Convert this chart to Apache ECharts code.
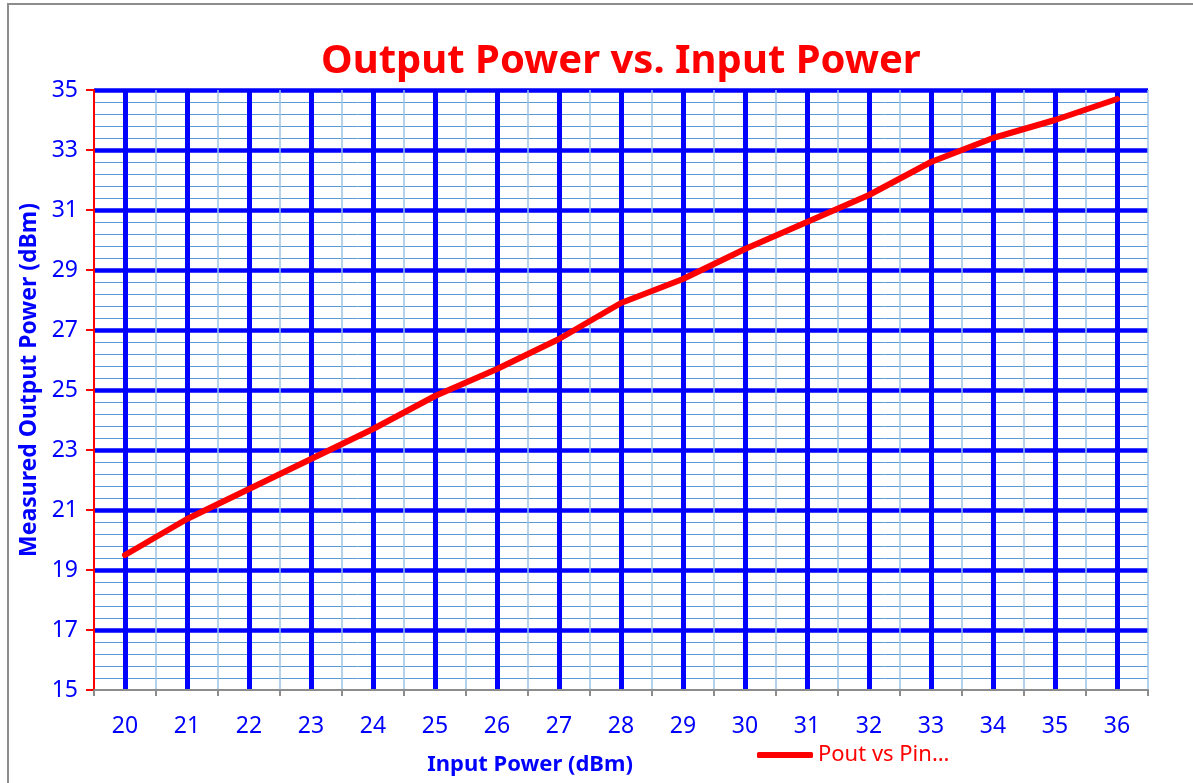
<!DOCTYPE html>
<html>
<head>
<meta charset="utf-8">
<script src="https://cdn.jsdelivr.net/npm/echarts@6/dist/echarts.min.js"></script>
<style>
html, body { margin: 0; padding: 0; background: #fff; }
#chart { width: 1193px; height: 783px; position: relative; }
#frame {
  position: absolute; left: 7px; top: 3px; width: 1300px; height: 900px;
  border-left: 2px solid #8c8c8c; border-top: 2px solid #8c8c8c;
  pointer-events: none;
}
</style>
</head>
<body>
<div id="chart"></div>
<div id="frame"></div>
<script>
// input power, dBm
var inputPower = ['20', '21', '22', '23', '24', '25', '26', '27', '28', '29', '30', '31', '32', '33', '34', '35', '36'];
// measured output power, dBm
var outputPower = [19.5, 20.7, 21.7, 22.7, 23.7, 24.8, 25.7, 26.7, 27.9, 28.7, 29.7, 30.6, 31.5, 32.6, 33.4, 34.0, 34.7];
var yMin = 15, yMax = 35, yStep = 2;

var blue = '#0000ff';
var red = '#ff0000';
var font = 'Noto Sans';

var chart = echarts.init(document.getElementById('chart'));

// thick lines on every odd value except the bottom one (gray x axis sits there)
var majorColors = [];
for (var v = yMin; v <= yMax; v += yStep) majorColors.push(v === yMin ? 'rgba(0,0,0,0)' : blue);

var option = {
  animation: false,
  title: {
    text: 'Output Power vs. Input Power',
    left: 316,
    top: 37,
    textStyle: { color: red, fontFamily: font, fontWeight: 'bold', fontSize: 40 }
  },
  legend: {
    data: ['Pout vs Pin…'],
    left: 752,
    top: 739,
    icon: 'roundRect',
    itemWidth: 56,
    itemHeight: 6,
    textStyle: { color: red, fontFamily: font, fontSize: 22 }
  },
  grid: { left: 94, right: 45, top: 90, bottom: 93, outerBoundsMode: 'none' },
  xAxis: [
    {
      type: 'category',
      data: inputPower,
      boundaryGap: true,
      name: 'Input Power (dBm)',
      nameLocation: 'middle',
      nameGap: 64,
      nameTextStyle: { color: blue, fontFamily: font, fontWeight: 'bold', fontSize: 22, padding: [0, 182, 0, 0] },
      axisLine: { lineStyle: { color: '#8c8c8c', width: 2 } },
      axisTick: { show: true, length: 6, lineStyle: { color: '#8c8c8c', width: 2 } },
      axisLabel: { color: blue, fontFamily: font, fontSize: 23, margin: 25 },
      splitLine: { show: true, lineStyle: { color: '#9dc3e6', width: 1.5 } }
    },
    {
      type: 'category',
      data: inputPower,
      boundaryGap: true,
      position: 'bottom',
      axisLine: { show: false },
      axisTick: { show: false },
      axisLabel: { show: false },
      splitLine: { show: true, alignWithLabel: true, lineStyle: { color: blue, width: 5 } }
    }
  ],
  yAxis: {
    type: 'value',
    min: yMin,
    max: yMax,
    interval: yStep,
    name: 'Measured Output Power (dBm)',
    nameLocation: 'middle',
    nameGap: 52,
    nameTextStyle: { color: blue, fontFamily: font, fontWeight: 'bold', fontSize: 23, padding: [0, 0, 0, 20] },
    axisLine: { show: true, lineStyle: { color: red, width: 2 } },
    axisTick: { show: true, length: 8, lineStyle: { color: red, width: 2 } },
    axisLabel: { color: blue, fontFamily: font, fontSize: 23, margin: 16 },
    splitLine: { show: true, lineStyle: { color: majorColors, width: 4.5 } },
    minorTick: { show: false, splitNumber: 5 },
    minorSplitLine: { show: true, lineStyle: { color: '#5b9bd5', width: 1 } }
  },
  series: [
    {
      name: 'Pout vs Pin…',
      type: 'line',
      data: outputPower,
      showSymbol: false,
      symbol: 'none',
      lineStyle: { color: red, width: 6, cap: 'round', join: 'round' },
      itemStyle: { color: red },
      z: 5
    }
  ]
};

chart.setOption(option);
</script>
</body>
</html>
